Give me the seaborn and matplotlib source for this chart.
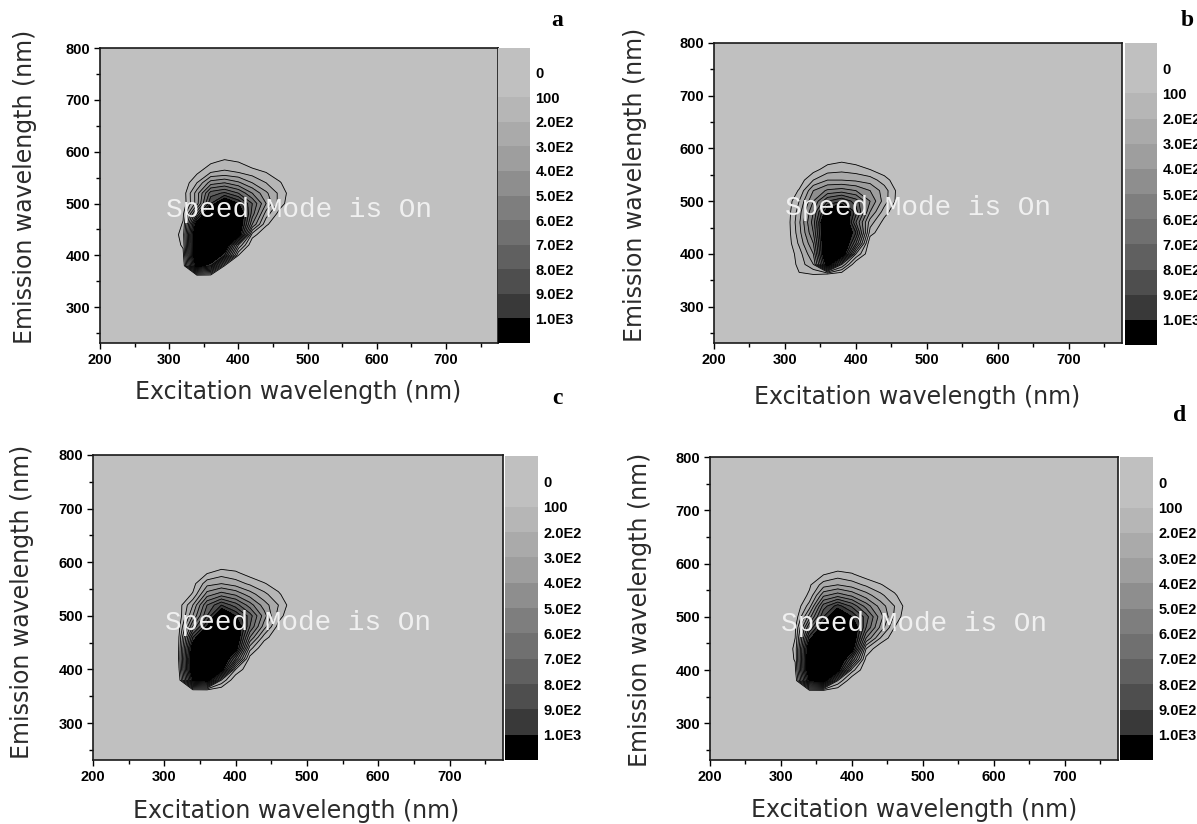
import numpy as np
import matplotlib
matplotlib.use("Agg")
import matplotlib.pyplot as plt
from matplotlib.ticker import MultipleLocator
import seaborn as sns

# excitation (nm) columns and emission (nm) rows of the intensity grids
excitation = [300, 320, 340, 360, 380, 400, 420, 440, 460, 480]
emission = [600, 580, 560, 540, 520, 500, 480, 460, 440, 420, 400, 380, 360, 340]

# fluorescence intensity (rows follow `emission`)
intensity_a = [
    [0, 0, 0, 0, 0, 0, 0, 0, 0, 0],
    [0, 0, 0, 80, 130, 100, 30, 0, 0, 0],
    [0, 0, 80, 200, 220, 200, 150, 100, 30, 0],
    [0, 20, 200, 450, 500, 420, 300, 200, 110, 0],
    [0, 40, 350, 750, 820, 700, 500, 320, 170, 20],
    [0, 30, 350, 900, 1200, 1000, 700, 400, 150, 0],
    [0, 80, 700, 1300, 1400, 1200, 650, 250, 50, 0],
    [0, 110, 1100, 1300, 1400, 1200, 500, 120, 0, 0],
    [0, 150, 1300, 1300, 1300, 1100, 150, 0, 0, 0],
    [0, 120, 1300, 1300, 1200, 400, 0, 0, 0, 0],
    [0, 60, 1300, 1300, 900, 100, 0, 0, 0, 0],
    [0, 0, 1100, 900, 100, 0, 0, 0, 0, 0],
    [0, 0, 0, 0, 0, 0, 0, 0, 0, 0],
    [0, 0, 0, 0, 0, 0, 0, 0, 0, 0],
]

intensity_b = [
    [0, 0, 0, 0, 0, 0, 0, 0, 0, 0],
    [0, 0, 0, 40, 70, 40, 0, 0, 0, 0],
    [0, 0, 60, 150, 170, 150, 100, 30, 0, 0],
    [0, 40, 200, 300, 300, 280, 250, 150, 20, 0],
    [0, 110, 400, 520, 550, 500, 400, 250, 60, 0],
    [0, 200, 500, 800, 900, 750, 500, 250, 50, 0],
    [0, 250, 600, 1100, 1250, 850, 400, 150, 0, 0],
    [0, 280, 650, 1300, 1300, 700, 250, 60, 0, 0],
    [0, 260, 600, 1300, 1300, 900, 150, 0, 0, 0],
    [0, 220, 500, 1300, 1300, 700, 0, 0, 0, 0],
    [0, 150, 400, 1300, 1200, 300, 0, 0, 0, 0],
    [0, 130, 300, 1100, 400, 0, 0, 0, 0, 0],
    [0, 90, 90, 0, 0, 0, 0, 0, 0, 0],
    [0, 0, 0, 0, 0, 0, 0, 0, 0, 0],
]

intensity_c = [
    [0, 0, 0, 0, 0, 0, 0, 0, 0, 0],
    [0, 0, 0, 90, 150, 120, 50, 0, 0, 0],
    [0, 0, 60, 260, 300, 250, 180, 110, 40, 0],
    [0, 20, 110, 450, 550, 480, 350, 230, 120, 0],
    [0, 40, 300, 700, 900, 750, 550, 350, 200, 30],
    [0, 20, 400, 800, 1200, 1000, 750, 450, 150, 0],
    [0, 50, 600, 1000, 1300, 1200, 700, 350, 60, 0],
    [0, 80, 900, 1300, 1300, 1200, 500, 150, 0, 0],
    [0, 95, 1100, 1300, 1300, 1100, 250, 0, 0, 0],
    [0, 100, 1200, 1300, 1300, 700, 50, 0, 0, 0],
    [0, 60, 1200, 1300, 1100, 200, 0, 0, 0, 0],
    [0, 0, 1000, 1100, 300, 0, 0, 0, 0, 0],
    [0, 0, 0, 0, 0, 0, 0, 0, 0, 0],
    [0, 0, 0, 0, 0, 0, 0, 0, 0, 0],
]

intensity_d = [
    [0, 0, 0, 0, 0, 0, 0, 0, 0, 0],
    [0, 0, 0, 90, 140, 110, 40, 0, 0, 0],
    [0, 0, 80, 250, 300, 250, 180, 110, 40, 0],
    [0, 10, 120, 480, 560, 480, 350, 230, 120, 0],
    [0, 0, 250, 750, 950, 780, 560, 360, 200, 30],
    [0, 20, 450, 900, 1200, 1000, 750, 450, 180, 0],
    [0, 80, 700, 1100, 1300, 1200, 700, 380, 100, 0],
    [0, 100, 950, 1300, 1300, 1200, 500, 200, 20, 0],
    [0, 120, 1150, 1300, 1300, 1100, 200, 0, 0, 0],
    [0, 110, 1200, 1300, 1300, 700, 60, 0, 0, 0],
    [0, 70, 1200, 1300, 1100, 250, 0, 0, 0, 0],
    [0, 0, 1000, 1100, 300, 0, 0, 0, 0, 0],
    [0, 0, 0, 0, 0, 0, 0, 0, 0, 0],
    [0, 0, 0, 0, 0, 0, 0, 0, 0, 0],
]

levels = [-100, 0, 100, 200, 300, 400, 500, 600, 700, 800, 900, 1000, 2000]
band_colors = ["#c0c0c0", "#c0c0c0", "#b6b6b6", "#aaaaaa", "#9e9e9e", "#8e8e8e",
               "#7e7e7e", "#707070", "#606060", "#4e4e4e", "#393939", "#000000"]
cbar_ticks = [0, 100, 200, 300, 400, 500, 600, 700, 800, 900, 1000]
cbar_labels = ["0", "100", "2.0E2", "3.0E2", "4.0E2", "5.0E2", "6.0E2",
               "7.0E2", "8.0E2", "9.0E2", "1.0E3"]

sns.set_style("ticks")
plt.rcParams["font.family"] = ["Liberation Sans", "DejaVu Sans"]
plt.rcParams["text.color"] = "black"
plt.rcParams["xtick.color"] = "black"
plt.rcParams["ytick.color"] = "black"

W, H = 1197, 824
fig = plt.figure(figsize=(W / 100, H / 100), dpi=100)


def box(x0, y0, x1, y1):
    return [x0 / W, 1 - y1 / H, (x1 - x0) / W, (y1 - y0) / H]


panels = [
    dict(z=intensity_a, ax=(100, 48, 498, 343), cb=(498, 48, 530, 343),
         letter="a", lpos=(557, 20), xlab=(298, 392), ylab=(25, 187)),
    dict(z=intensity_b, ax=(714, 43, 1122, 343), cb=(1125, 43, 1157, 345),
         letter="b", lpos=(1187, 20), xlab=(917, 397), ylab=(635, 185)),
    dict(z=intensity_c, ax=(93, 455, 503, 760), cb=(505, 456, 538, 760),
         letter="c", lpos=(557, 398), xlab=(296, 811), ylab=(22, 602)),
    dict(z=intensity_d, ax=(710, 457, 1118, 760), cb=(1120, 457, 1153, 760),
         letter="d", lpos=(1180, 415), xlab=(914, 810), ylab=(640, 610)),
]

for p in panels:
    ax = fig.add_axes(box(*p["ax"]))
    ax.set_facecolor("#c0c0c0")
    z = np.array(p["z"], dtype=float)
    cs = ax.contourf(excitation, emission, z, levels=levels, colors=band_colors)
    ax.contour(excitation, emission, z, levels=cbar_ticks[1:], colors="black",
               linewidths=0.6)
    ax.set_xlim(200, 775)
    ax.set_ylim(231, 800)
    ax.xaxis.set_major_locator(MultipleLocator(100))
    ax.xaxis.set_minor_locator(MultipleLocator(50))
    ax.yaxis.set_major_locator(MultipleLocator(100))
    ax.yaxis.set_minor_locator(MultipleLocator(50))
    ax.set_xticks([200, 300, 400, 500, 600, 700])
    ax.tick_params(which="major", direction="out", length=4, width=1,
                   labelsize=10.5, pad=3, colors="black")
    ax.tick_params(which="minor", direction="out", length=3, width=1,
                   colors="black")
    for lab in ax.get_xticklabels() + ax.get_yticklabels():
        lab.set_fontweight("bold")
    for s in ax.spines.values():
        s.set_color("#1a1a1a")
        s.set_linewidth(1.2)
    ax.text(488, 487, "Speed Mode is On", ha="center", va="center",
            fontsize=20, family="Liberation Mono", color="#f0f0f0", zorder=10)

    cax = fig.add_axes(box(*p["cb"]))
    cb = fig.colorbar(cs, cax=cax)
    cb.outline.set_visible(False)
    cax.invert_yaxis()
    cb.set_ticks(cbar_ticks)
    cb.set_ticklabels(cbar_labels)
    cax.tick_params(length=0, pad=4, labelsize=10.5, colors="black")
    for lab in cax.get_yticklabels():
        lab.set_fontweight("bold")

    fig.text(p["xlab"][0] / W, 1 - p["xlab"][1] / H, "Excitation wavelength (nm)",
             ha="center", va="center", fontsize=17, family="DejaVu Sans",
             color="#2b2b2b")
    fig.text(p["ylab"][0] / W, 1 - p["ylab"][1] / H, "Emission wavelength (nm)",
             ha="center", va="center", rotation=90, fontsize=17,
             family="DejaVu Sans", color="#2b2b2b")
    fig.text(p["lpos"][0] / W, 1 - p["lpos"][1] / H, p["letter"], ha="center",
             va="center", fontsize=17, fontweight="bold", family="Liberation Serif",
             color="black")

fig.savefig("out.png", dpi=100)
